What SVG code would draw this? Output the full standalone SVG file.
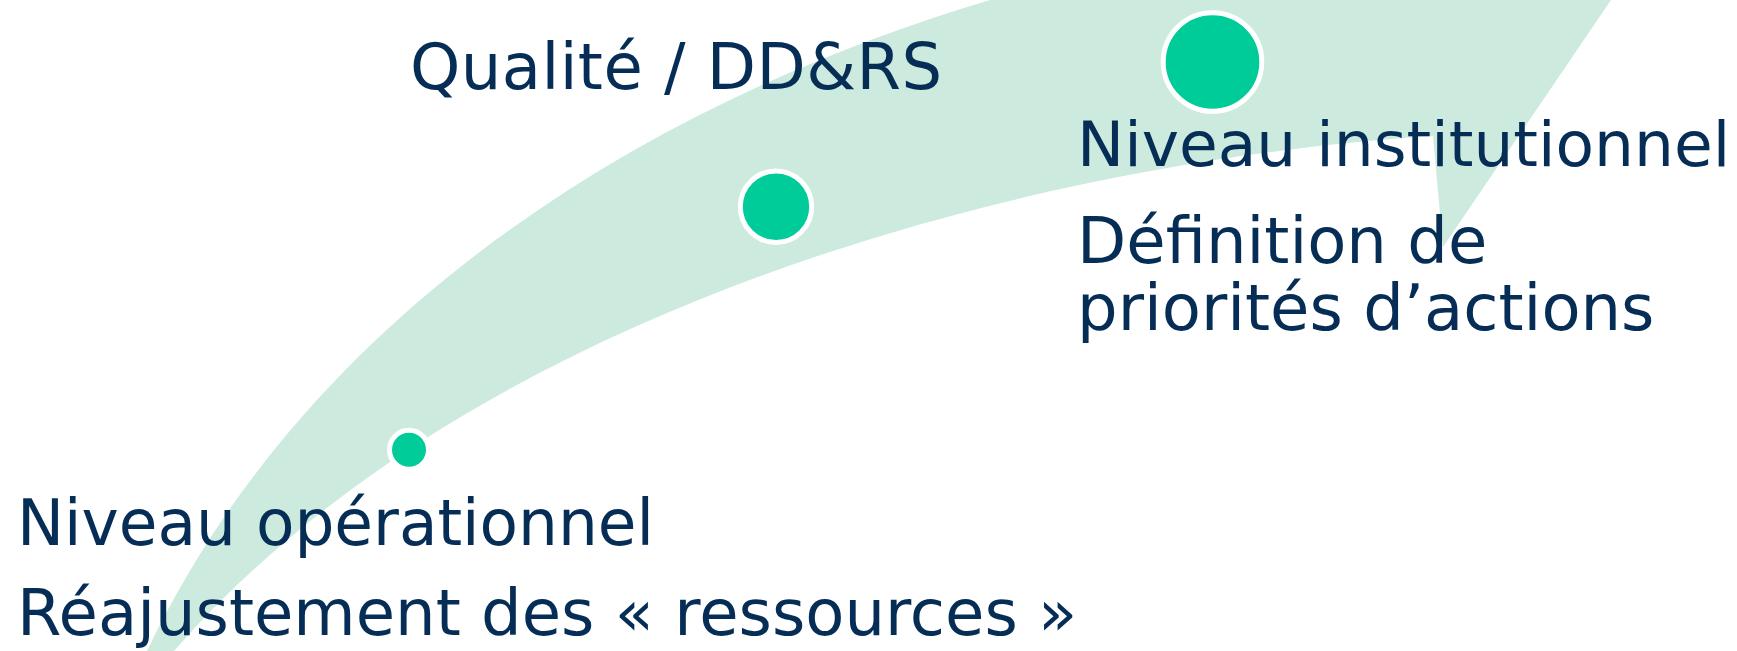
<svg xmlns="http://www.w3.org/2000/svg" width="1737" height="651" viewBox="0 0 1737 651">
<style>
.lbl{font-family:"DejaVu Sans","Verdana",sans-serif;font-size:64px;fill:#062D55}
.dot{fill:#00CC99;stroke:#FFFFFF;stroke-width:5}
</style>
<rect width="1737" height="651" fill="#FFFFFF"/>
<g id="connectors">
<path id="band" fill="#CCEBDE" d="M 147,651 C 300,330 620,110 990,0 L 996,-10 L 1618,-10 L 1611,0 L 1443,247 L 1433,136 C 1050,160 480,300 174,651 Z"/>
</g>
<g id="node-top">
<circle class="dot" cx="1212.5" cy="62" r="49.3"/>
<text class="lbl" x="1077" y="166" style="font-size:63px">Niveau institutionnel</text>
<text class="lbl" x="1077" y="263">Définition de</text>
<text class="lbl" x="1077" y="330">priorités d’actions</text>
</g>
<g id="node-mid">
<circle class="dot" cx="776" cy="206.7" r="35.7"/>
<text class="lbl" x="410" y="89" textLength="532" lengthAdjust="spacing">Qualité / DD&amp;RS</text>
</g>
<g id="node-low">
<circle class="dot" cx="409" cy="449.7" r="19.5"/>
<text class="lbl" x="17" y="545" textLength="637" lengthAdjust="spacingAndGlyphs">Niveau opérationnel</text>
<text class="lbl" x="17" y="635">Réajustement des « ressources »</text>
</g>
</svg>
